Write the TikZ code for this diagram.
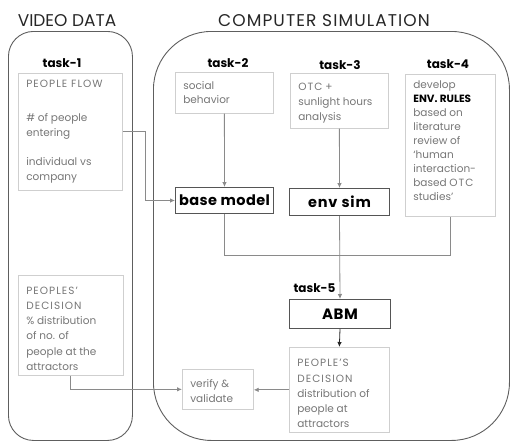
\documentclass[tikz,border=0pt]{standalone}
\usepackage{fontspec}
\setmainfont{Poppins}
\usetikzlibrary{arrows.meta}
\definecolor{txtgray}{HTML}{767676}
\definecolor{lboxcol}{HTML}{CFCFCF}
\definecolor{dboxcol}{HTML}{555555}
\definecolor{framecol}{HTML}{5E5E5E}
\definecolor{linecol}{HTML}{8A8A8A}
\newcommand{\lsp}[2]{{\addfontfeatures{LetterSpace=#1}#2}}
\newcommand{\capsp}[1]{\lsp{10}{#1}}
% #1 width, #2 height, #3 top pad, #4 baselineskip, #5 text
\newcommand{\tbx}[5]{\begin{minipage}[c][#2][t]{#1}\vspace*{#3}\raggedright\leftskip=8pt\fontsize{10.5}{#4}\selectfont\color{txtgray}#5\end{minipage}}
\begin{document}
\begin{tikzpicture}[x=1pt,y=-1pt,
  frame/.style={draw=framecol, line width=0.9pt, inner sep=0pt, anchor=north west},
  lbox/.style={draw=lboxcol, line width=0.7pt, inner sep=0pt, anchor=north west},
  bbox/.style={draw=dboxcol, line width=1pt, inner sep=0pt, anchor=north west, font=\bfseries\fontsize{14.5}{16}\selectfont},
  tasklbl/.style={font=\bfseries\fontsize{12}{14}\selectfont},
  title/.style={font=\fontsize{17}{20}\selectfont, text=black!85},
  conn/.style={draw=linecol, line width=0.8pt},
  arr/.style={conn, -{Latex[length=5pt,width=4.5pt]}},
]
\useasboundingbox (0,0) rectangle (511,442);
% frames
\node[frame, rounded corners=25pt, minimum width=124pt, minimum height=409pt] (vframe) at (8,31) {};
\node[frame, rounded corners=58pt, minimum width=356pt, minimum height=409pt] (cframe) at (153,31) {};
% titles
\node[title] (vtitle) at (67,21) {VIDEO DATA};
\node[title] (ctitle) at (324,21) {\lsp{6.5}{COMPUTER SIMULATION}};
% task labels
\node[tasklbl] (l1) at (62,63) {task-1};
\node[tasklbl] (l2) at (228,63) {task-2};
\node[tasklbl] (l3) at (340,65) {task-3};
\node[tasklbl] (l4) at (448,64) {task-4};
\node[tasklbl, anchor=west] (l5) at (290,288) {task-5};
% light boxes
\node[lbox] (t1box) at (18,73) {\tbx{104pt}{117pt}{6.5pt}{14.5pt}{\capsp{PEOPLE FLOW}\\[20pt]\#{} of people\\entering\\[15pt]individual vs\\company}};
\node[lbox] (t2box) at (175,72) {\tbx{98pt}{41pt}{9pt}{14.5pt}{social\\behavior}};
\node[lbox] (t3box) at (290,73) {\tbx{98pt}{55pt}{9.5pt}{15pt}{\capsp{OTC} +\\sunlight hours\\analysis}};
\node[lbox] (t4box) at (405,74) {\tbx{90pt}{142pt}{6pt}{14pt}{develop\\{\color{black}\bfseries ENV. RULES}\\based on\\literature\\review of\\‘human\\interaction-\\based \capsp{OTC}\\studies’}};
\node[lbox] (lpd) at (18,275) {\tbx{105pt}{100pt}{11.5pt}{15.2pt}{\capsp{PEOPLES’}\\\capsp{DECISION}\\\%{} distribution\\of no. of\\people at the\\attractors}};
\node[lbox] (pd) at (289,347) {\tbx{100pt}{85pt}{12pt}{15.3pt}{\capsp{PEOPLE’S}\\\capsp{DECISION}\\distribution of\\people at\\attractors}};
\node[lbox] (verify) at (182,369) {\tbx{71pt}{40pt}{10pt}{15pt}{verify \&\\validate}};
% bold boxes
\node[bbox, minimum width=98pt, minimum height=26pt] (base) at (175,187) {\lsp{3}{base model}};
\node[bbox, minimum width=100pt, minimum height=27pt] (env) at (289,188) {\lsp{6}{env sim}};
\node[bbox, minimum width=101pt, minimum height=29pt, font=\bfseries\fontsize{15}{17}\selectfont] (abm) at (289,299) {\lsp{3}{ABM}};
% connectors
\coordinate (j) at (340,255);
\draw[arr] (t1box.east) -- ++(23,0) |- (base.west);
\draw[arr] (t2box.south) -- (base.north);
\draw[arr] (t3box.south) -- (env.north);
\draw[conn] (base.south) |- (t4box.south |- j) -- (t4box.south);
\draw[arr] (env.south) -- (abm.north);
\draw[arr, draw=black!85] (abm.south) -- (pd.north);
\draw[arr] (pd.west) -- (pd.west -| verify.east);
\draw[arr] (lpd.south) |- (verify.west);
\end{tikzpicture}
\end{document}
